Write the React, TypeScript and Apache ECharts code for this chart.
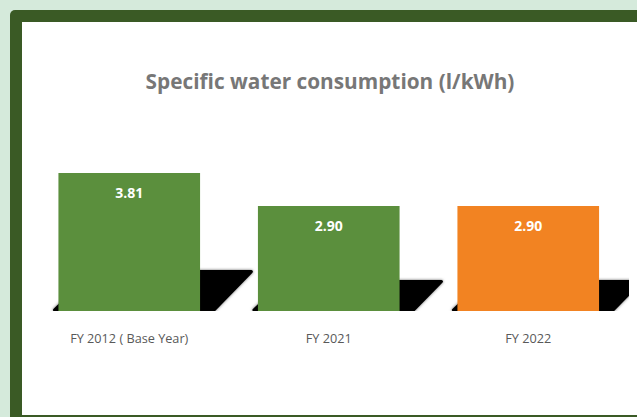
import React, { useEffect, useRef } from "react";
import * as echarts from "echarts";

const categories = ["FY 2012 ( Base Year)", "FY 2021", "FY 2022"];
const values = [3.81, 2.9, 2.9];
const barColors = ["#5b8f3d", "#5b8f3d", "#f28322"];

export default function App() {
  const ref = useRef<HTMLDivElement>(null);
  useEffect(() => {
    if (!ref.current) return;
    const chart = echarts.init(ref.current, null, { renderer: "svg" });
    const shadowData = values.map((v, i) => [i, v]);
    chart.setOption({
      animation: false,
      backgroundColor: "#d5eadb",
      title: {
        text: "Specific water consumption (l/kWh)",
        left: 325,
        top: 65,
        textAlign: "center",
        textStyle: {
          fontFamily: "Open Sans",
          fontWeight: "bold",
          fontSize: 20.8,
          color: "#777777",
        },
      },
      graphic: [
        {
          type: "rect",
          z: -10,
          silent: true,
          shape: { x: 10, y: 10, width: 700, height: 500, r: 5 },
          style: { fill: "#3a5a25" },
        },
        {
          type: "rect",
          z: -9,
          silent: true,
          shape: { x: 22, y: 22, width: 700, height: 393 },
          style: { fill: "#ffffff" },
        },
      ],
      grid: { left: 29.5, right: 9, top: 130, bottom: 106 },
      xAxis: {
        type: "category",
        data: categories,
        axisLine: { show: false },
        axisTick: { show: false },
        axisLabel: {
          margin: 20,
          fontFamily: "Open Sans",
          fontSize: 12.7,
          color: "#595959",
        },
      },
      yAxis: {
        type: "value",
        min: 0,
        max: 5,
        show: false,
        splitLine: { show: false },
      },
      series: [
        {
          type: "custom",
          z: 1,
          clip: true,
          encode: { x: 0, y: 1 },
          data: shadowData,
          renderItem: (params: any, api: any) => {
            const idx = api.value(0);
            const val = api.value(1);
            const base = api.coord([idx, 0]);
            const top = api.coord([idx, val]);
            const bw = api.size([1, 0])[0] * 0.71;
            const h = base[1] - top[1];
            const sh = 0.3 * h;
            const L = base[0] - bw / 2;
            const R = base[0] + bw / 2;
            const y0 = base[1];
            const skew = 0.95 * sh;
            return {
              type: "polygon",
              shape: {
                points: [
                  [L - 4, y0 - 1],
                  [R + 14, y0 - 1],
                  [R + 12 + skew, y0 - sh + 2],
                  [L - 4 + skew, y0 - sh + 2],
                ],
              },
              style: {
                fill: "#000000",
                stroke: "#000000",
                lineWidth: 3,
                lineJoin: "round",
                shadowBlur: 3,
                shadowColor: "rgba(0,0,0,0.6)",
              },
            };
          },
        },
        {
          type: "bar",
          z: 3,
          barWidth: "71%",
          data: values.map((v, i) => ({
            value: v,
            itemStyle: { color: barColors[i] },
          })),
          label: {
            show: true,
            position: "insideTop",
            distance: 12,
            formatter: (p: any) => Number(p.value).toFixed(2),
            fontFamily: "Open Sans",
            fontWeight: "bold",
            fontSize: 14,
            color: "#ffffff",
          },
        },
      ],
    });
    return () => chart.dispose();
  }, []);
  return (
    <div
      ref={ref}
      style={{ position: "fixed", left: 0, top: 0, width: 637, height: 417 }}
    />
  );
}
